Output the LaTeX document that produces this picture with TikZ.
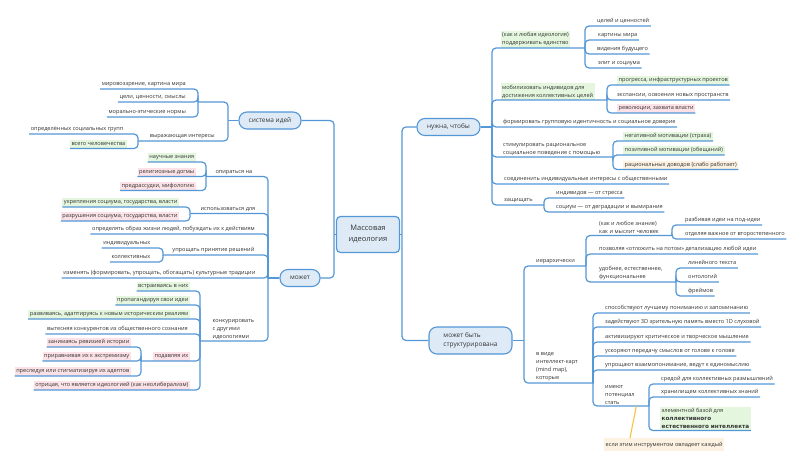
\documentclass[tikz,border=0pt]{standalone}
\usepackage{fontspec}
\setmainfont{Open Sans}
\newfontfamily\strongfont{DejaVu Sans}
\usetikzlibrary{calc}
\definecolor{cLine}{HTML}{5397D6}
\definecolor{cFill}{HTML}{DEEBF7}
\definecolor{cInk}{HTML}{333333}
\definecolor{cOk}{HTML}{E4F7DE}
\definecolor{cBad}{HTML}{FCE2E6}
\definecolor{cMeh}{HTML}{FDF1E2}
\definecolor{cRel}{HTML}{F5C342}
\tikzset{
  mm/.style={font=\fontsize{5.6}{8}\selectfont, text=cInk},
  core/.style={draw=cLine, line width=1.2pt, fill=cFill, rounded corners=4pt, minimum width=63pt, minimum height=36pt,
    align=center, font=\fontsize{7.5}{11}\selectfont},
  topic/.style={draw=cLine, line width=1.1pt, fill=cFill, rounded corners=8pt, minimum height=17pt, align=center,
    font=\fontsize{6.5}{9}\selectfont, inner xsep=6pt},
  leaf/.style={inner xsep=1.5pt, inner ysep=1.6pt, text height=4.3pt, text depth=1.3pt, align=left},
  ml/.style={text height=, text depth=},
  lt/.style={leaf, anchor=south east},
  rt/.style={leaf, anchor=south west},
  ok/.style={fill=cOk}, bad/.style={fill=cBad}, meh/.style={fill=cMeh},
  link/.style={draw=cLine, line width=1.2pt, rounded corners=4pt},
  rel/.style={draw=cRel, line width=1.1pt},
}
\newcommand{\strongtxt}[1]{{\strongfont\bfseries\fontsize{5.7}{9.5}\selectfont #1}}

\begin{document}
\begin{tikzpicture}[mm, x=1pt, y=-1pt]
\useasboundingbox (0,0) rectangle (800,469);
% centre and the four branch topics (pixel grid of the 800x469 sheet, y downwards)
\node[core] (mi) at (368,234.5) {Массовая\\идеология};
\node[topic, minimum width=62pt] (sys) at (270,120.5) {система идей};
\node[topic, minimum width=40pt] (moz) at (300,278) {может};
\node[topic, minimum width=63pt] (nuzh) at (448.5,127) {нужна, чтобы};
\node[topic, minimum width=83pt, minimum height=27pt, align=left] (struct) at (470.5,340.5) {может быть\\структурирована};
\coordinate (cl) at (334,234.5);
\coordinate (cr) at (402,234.5);
\draw[link] (mi.west) -- (cl);
\draw[link] (mi.east) -- (cr);
\draw[link] (cl) |- (sys.east);
\draw[link] (cl) |- (moz.east);
\draw[link] (cr) |- (nuzh.west);
\draw[link] (cr) |- (struct.west);

% ---- система идей
\coordinate (sa) at (198,102);
\coordinate (sb) at (228,120.5);
\coordinate (sc) at (138,141);
\node[lt] (mir) at (187.5,89) {мировоззрение, картина мира};
\node[lt] (cel) at (187.5,102) {цели, ценности, смыслы};
\node[lt] (mor) at (187.5,117) {морально-этические нормы};
\node[lt] (vyr) at (216.5,141) {выражающая интересы};
\node[lt] (opr) at (125,134) {определённых социальных групп};
\node[lt, ok] (vse) at (127,148.5) {всего человечества};
\draw[link] (sys.west) -- (sb);
\draw[link] (sb) |- (sa);
\draw[link] (sb) |- (sc);
\foreach \c in {mir,cel,mor} \draw[link] (sa) |- (\c.south west);
\foreach \c in {opr,vse} \draw[link] (sc) |- (\c.south west);

% ---- может
\coordinate (m0) at (268,278);
\coordinate (m1) at (206,176.5);
\coordinate (m2) at (190,213.5);
\coordinate (m3) at (163,255);
\coordinate (m4) at (200,341);
\coordinate (m5) at (141,361);
\node[lt] (opir) at (254,176.5) {опираться на};
\node[lt, ok] (nauch) at (196,162) {научные знания};
\node[lt, bad] (relig) at (196,176.5) {религиозные догмы};
\node[lt, bad] (predr) at (196,190.5) {предрассудки, мифологию};
\node[lt] (isp) at (257,213.5) {использоваться для};
\node[lt, ok] (ukr) at (179,207) {укрепления социума, государства, власти};
\node[lt, bad] (razr) at (179,221) {разрушения социума, государства, власти};
\node[lt] (opred) at (256.5,234) {определять образ жизни людей, побуждать их к действиям};
\node[lt] (upr) at (256,255) {упрощать принятие решений};
\node[lt] (indiv) at (152,248) {индивидуальных};
\node[lt] (koll) at (152,262) {коллективных};
\node[lt] (izm) at (257,278) {изменять (формировать, упрощать, обогащать) культурные традиции};
\node[rt, ml] (konk) at (211,341) {конкурировать\\с другими\\идеологиями};
\node[lt, ok] (vstr) at (190,291) {встраиваясь в них};
\node[lt, ok] (prop) at (190,305) {пропагандируя свои идеи};
\node[lt, ok] (razv) at (190,319) {развиваясь, адаптируясь к новым историческим реалиям};
\node[lt] (vyt) at (189.5,334) {вытесняя конкурентов из общественного сознания};
\node[lt, bad] (podav) at (190,361) {подавляя их};
\node[lt, bad] (zan) at (131,347) {занимаясь ревизией истории};
\node[lt, bad] (prir) at (131,361) {приравнивая их к экстремизму};
\node[lt, bad] (presl) at (131,376) {преследуя или стигматизируя их адептов};
\node[lt, bad] (otr) at (190,390) {отрицая, что является идеологией (как неолиберализм)};
\draw[link] (moz.west) -- (m0);
\foreach \j in {m1,m2,m3,m4} \draw[link] (m0) |- (\j);
\foreach \c in {opred,izm} \draw[link] (m0) |- (\c.south west);
\foreach \c in {nauch,relig,predr} \draw[link] (m1) |- (\c.south west);
\foreach \c in {ukr,razr} \draw[link] (m2) |- (\c.south west);
\foreach \c in {indiv,koll} \draw[link] (m3) |- (\c.south west);
\foreach \c in {vstr,prop,razv,vyt,otr} \draw[link] (m4) |- (\c.south west);
\draw[link] (m4) |- (m5);
\foreach \c in {zan,prir,presl} \draw[link] (m5) |- (\c.south west);

% ---- нужна, чтобы
\coordinate (n0) at (492,127);
\coordinate (n1) at (585,48);
\coordinate (n2) at (607,100);
\coordinate (n3) at (613,157);
\coordinate (n4) at (544,205);
\node[rt, ml, ok] (podd) at (500.5,48) {(как и любая идеология)\\поддерживать единство};
\node[rt] (celei) at (595.5,26) {целей и ценностей};
\node[rt] (kart) at (596.5,40) {картины мира};
\node[rt] (vid) at (595.5,54) {видения будущего};
\node[rt] (elit) at (596.5,68) {элит и социума};
\node[rt, ml, ok] (mob) at (500.5,100) {мобилизовать индивидов для\\достижения коллективных целей};
\node[rt, ok] (progr) at (617,85) {прогресса, инфраструктурных проектов};
\node[rt] (eksp) at (615.5,100) {экспансии, освоения новых пространств};
\node[rt, bad] (rev) at (617,113) {революции, захвата власти};
\node[rt] (form) at (501.5,127) {формировать групповую идентичность и социальное доверие};
\node[rt, ml] (stim) at (501.5,157) {стимулировать рациональное\\социальное поведение с помощью};
\node[rt, ok] (neg) at (623,141) {негативной мотивации (страха)};
\node[rt, ok] (poz) at (623,155) {позитивной мотивации (обещаний)};
\node[rt, meh] (rac) at (623,169.5) {рациональных доводов (слабо работает)};
\node[rt] (soed) at (502.5,184) {соединенить индивидуальные интересы с общественными};
\node[rt] (zasch) at (502.5,205) {защищать};
\node[rt] (indv) at (554.5,198) {индивидов — от стресса};
\node[rt] (soc) at (554.5,212) {социум — от деградации и вымирания};
\draw[link] (nuzh.east) -- (n0);
\foreach \j in {n1,n2,n3,n4} \draw[link] (n0) |- (\j);
\foreach \c in {form,soed} \draw[link] (n0) |- (\c.south east);
\foreach \c in {celei,kart,vid,elit} \draw[link] (n1) |- (\c.south east);
\foreach \c in {progr,eksp,rev} \draw[link] (n2) |- (\c.south east);
\foreach \c in {neg,poz,rac} \draw[link] (n3) |- (\c.south east);
\foreach \c in {indv,soc} \draw[link] (n4) |- (\c.south east);

% ---- может быть структурирована
\coordinate (s0) at (524,340.5);
\coordinate (t1) at (586,266);
\coordinate (t2) at (672,235.5);
\coordinate (t3) at (676,282);
\coordinate (t4) at (593,383);
\coordinate (t5) at (649,406);
\node[rt] (ier) at (534.5,266) {иерархически};
\node[rt, ml] (kak) at (597.5,235.5) {(как и любое знание)\\как и мыслит человек};
\node[rt] (razb) at (683.5,225) {разбивая идеи на под-идеи};
\node[rt] (otd) at (683.5,239) {отделяя важное от второстепенного};
\node[rt] (pozv) at (597.5,254) {позволяя «отложить на потом» детализацию любой идеи};
\node[rt, ml] (udob) at (597.5,282) {удобнее, естественнее,\\функциональнее};
\node[rt] (lin) at (686.5,268) {линейного текста};
\node[rt] (ont) at (686.5,282) {онтологий};
\node[rt] (frei) at (686.5,296) {фреймов};
\node[rt, ml] (vvid) at (534.5,383) {в виде\\интеллект-карт\\(mind map),\\которые};
\node[rt] (spos) at (603.5,313) {способствуют лучшему пониманию и запоминанию};
\node[rt] (zad) at (603.5,327) {задействуют 3D зрительную память вместо 1D слуховой};
\node[rt] (akt) at (603.5,342) {активизируют критическое и творческое мышление};
\node[rt] (usk) at (603.5,356) {ускоряют передачу смыслов от голове к голове};
\node[rt] (upr2) at (603.5,370) {упрощают взаимопонимание, ведут к единомыслию};
\node[rt, ml] (imeut) at (603.5,406) {имеют\\потенциал\\стать};
\node[rt] (sred) at (659.5,384) {средой для коллективных размышлений};
\node[rt] (hran) at (659.5,397) {хранилищем коллективных знаний};
\node[rt, ml, ok] (elem) at (660,430.5) {элементной базой для\\\strongtxt{коллективного}\\\strongtxt{естественного интеллекта}};
\node[leaf, meh, anchor=north west, inner ysep=3.5pt] (esli) at (604,438) {если этим инструментом овладеет каждый};
\draw[link] (struct.east) -- (s0);
\foreach \j in {t1,t4} \draw[link] (s0) |- (\j);
\foreach \j in {t2,t3} \draw[link] (t1) |- (\j);
\draw[link] (t1) |- (pozv.south east);
\foreach \c in {razb,otd} \draw[link] (t2) |- (\c.south east);
\foreach \c in {lin,ont,frei} \draw[link] (t3) |- (\c.south east);
\foreach \c in {spos,zad,akt,usk,upr2} \draw[link] (t4) |- (\c.south east);
\draw[link] (t4) |- (t5);
\foreach \c in {sred,hran,elem} \draw[link] (t5) |- (\c.south east);
\draw[rel] (imeut.south east) -- ($(esli.north west)+(26,0)$);
\end{tikzpicture}
\end{document}
